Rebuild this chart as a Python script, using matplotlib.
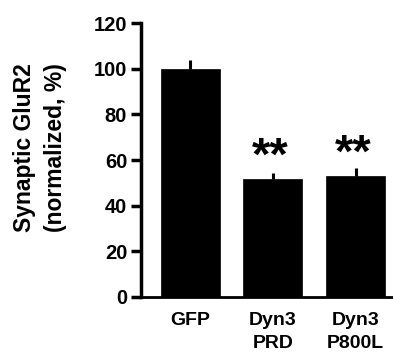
import matplotlib
matplotlib.use("Agg")
import matplotlib.pyplot as plt

categories = ["GFP", "Dyn3\nPRD", "Dyn3\nP800L"]
values = [100, 51.5, 53]
errors = [3.8, 3.0, 3.5]
sig_labels = ["", "**", "**"]
sig_heights = [0, 61, 62.5]
yticks = [0, 20, 40, 60, 80, 100, 120]

plt.rcParams['font.family'] = ['Liberation Sans', 'DejaVu Sans']
plt.rcParams['font.weight'] = 'bold'

fig = plt.figure(figsize=(3.93, 3.58), dpi=100)
ax = fig.add_axes([0.359, 0.171, 0.641, 0.764])

x = list(range(len(categories)))
ax.bar(x, values, width=0.714, color='black', edgecolor='black', linewidth=0.5, zorder=2)
ax.errorbar(x, values, yerr=[[0]*len(errors), errors], fmt='none', ecolor='black',
            elinewidth=2.2, capsize=0, zorder=3)
for xi, lab, h in zip(x, sig_labels, sig_heights):
    if lab:
        ax.text(xi - 0.03, h, lab, ha='center', va='center', fontsize=34, fontweight='bold')

ax.set_xlim(-0.597, 2.454)
ax.set_ylim(0, 120)
ax.set_yticks(yticks)
ax.set_yticklabels([str(t) for t in yticks], fontsize=14.5, fontweight='bold')
ax.set_xticks(x)
ax.set_xticklabels(categories, fontsize=14, fontweight='bold', linespacing=1.45)
ax.tick_params(axis='x', length=0, pad=11)
ax.tick_params(axis='y', length=7, width=2.5, pad=3, direction='out')
for s in ['top', 'right']:
    ax.spines[s].set_visible(False)
ax.spines['left'].set_linewidth(2.5)
ax.spines['bottom'].set_linewidth(2.0)

fig.text(0.102, 0.587, "Synaptic GluR2\n(normalized, %)", rotation=90, ha='center', va='center',
         fontsize=16.5, fontweight='bold', linespacing=1.4)

fig.savefig("out.png", dpi=100)
